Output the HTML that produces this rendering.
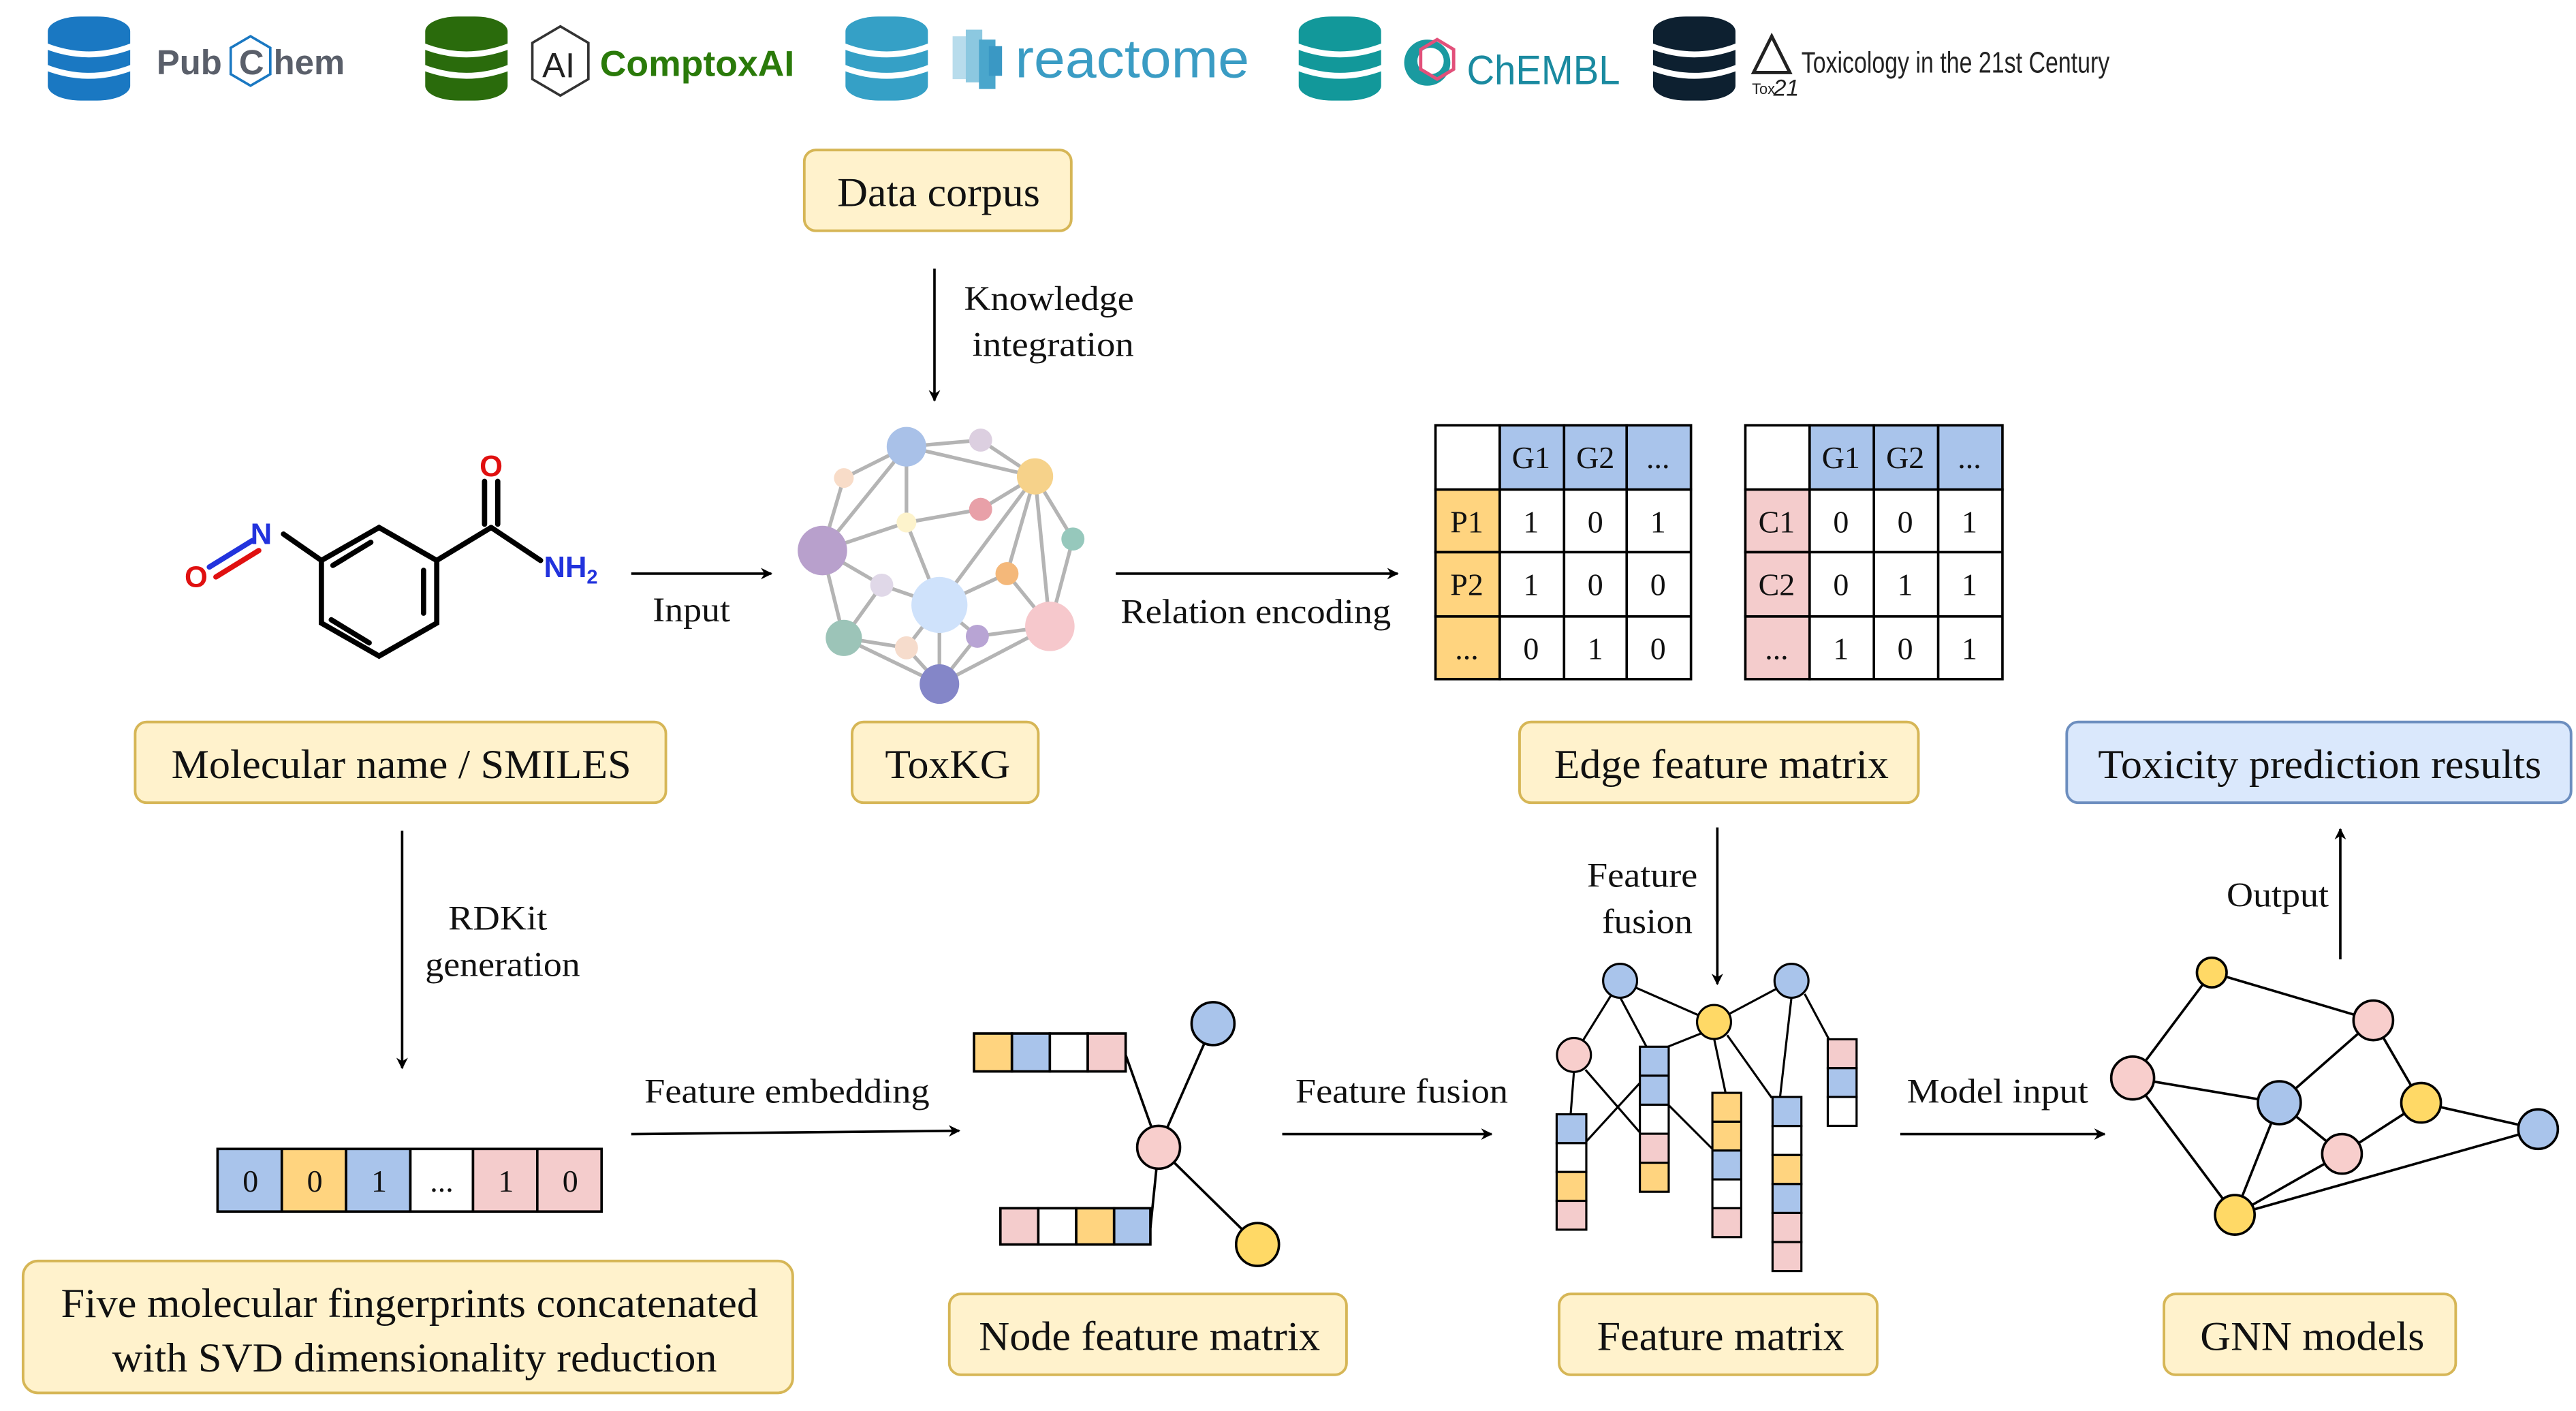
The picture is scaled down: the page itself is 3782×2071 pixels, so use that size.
<!DOCTYPE html>
<html><head><meta charset="utf-8"><style>
html,body{margin:0;padding:0;background:#fff;}
svg{display:block;}
text{font-family:"Liberation Serif",serif;fill:#111;}
.s{font-family:"Liberation Sans",sans-serif;}
</style></head><body>
<svg width="3782" height="2071" viewBox="0 0 1563 856" preserveAspectRatio="none" xmlns="http://www.w3.org/2000/svg">
<defs>
<marker id="ah" viewBox="0 0 10 10" refX="9" refY="5" markerWidth="7" markerHeight="7" orient="auto" markerUnits="userSpaceOnUse"><path d="M0,0 L10,5 L0,10 L3,5 z" fill="#000"/></marker>
<g id="db"><rect x="0" y="0" width="50" height="51" rx="20" ry="9"/><path d="M-1,18 Q25,28 51,18" stroke="#fff" stroke-width="3.6" fill="none"/><path d="M-1,31 Q25,41 51,31" stroke="#fff" stroke-width="3.6" fill="none"/></g>
</defs>

<!-- logos -->
<use href="#db" x="29" y="10" fill="#1a78c2"/>
<text class="s" x="95" y="45" font-size="21" font-weight="bold" style="fill:#5a5f6a">Pub</text>
<polygon points="152,22 164,29 164,45 152,52 140,45 140,29" fill="none" stroke="#1a78c2" stroke-width="1.5"/>
<text class="s" x="145" y="45" font-size="21" font-weight="bold" style="fill:#5a5f6a">C</text>
<text class="s" x="166" y="45" font-size="21" font-weight="bold" style="fill:#5a5f6a">hem</text>

<use href="#db" x="258" y="10" fill="#2a6b0c"/>
<polygon points="340,16 357,26 357,48 340,58 323,48 323,26" fill="none" stroke="#333" stroke-width="1.5"/>
<text class="s" x="329" y="47" font-size="21" style="fill:#222">AI</text>
<text class="s" x="364" y="46" font-size="22" font-weight="bold" textLength="118" lengthAdjust="spacingAndGlyphs" style="fill:#2a7a0a">ComptoxAI</text>

<use href="#db" x="513" y="10" fill="#35a0c6"/>
<rect x="578" y="22" width="10" height="26" fill="#b8dcec"/><rect x="586" y="18" width="10" height="32" fill="#8cc8e0"/><rect x="594" y="24" width="10" height="30" fill="#4aa6cc"/><rect x="600" y="28" width="8" height="18" fill="#3a98c4"/>
<text class="s" x="616" y="47" font-size="33" textLength="142" lengthAdjust="spacingAndGlyphs" style="fill:#3a9cc4">reactome</text>

<use href="#db" x="788" y="10" fill="#12989a"/>
<circle cx="866" cy="38" r="14" fill="#1a9aa0"/><circle cx="868" cy="37" r="8" fill="#fff"/><polygon points="872,24 882,30 882,42 872,48 862,42 862,30" fill="none" stroke="#e2507a" stroke-width="2"/>
<text class="s" x="890" y="51" font-size="25" textLength="93" lengthAdjust="spacingAndGlyphs" style="fill:#1a8aa0">ChEMBL</text>

<use href="#db" x="1003" y="10" fill="#0d2030"/>
<polygon points="1075,22 1086,44 1064,44" fill="none" stroke="#222" stroke-width="2"/>
<text class="s" x="1063" y="57" font-size="9" style="fill:#222">Tox</text><text class="s" x="1076" y="58" font-size="14" font-style="italic" style="fill:#222">21</text>
<text class="s" x="1093" y="44" font-size="18" textLength="187" lengthAdjust="spacingAndGlyphs" style="fill:#222">Toxicology in the 21st Century</text>

<!-- yellow boxes -->
<g fill="#fff2cc" stroke="#d6b656" stroke-width="1.6">
<rect x="488" y="91" width="162" height="49" rx="7"/>
<rect x="82" y="438" width="322" height="49" rx="7"/>
<rect x="517" y="438" width="113" height="49" rx="7"/>
<rect x="922" y="438" width="242" height="49" rx="7"/>
<rect x="14" y="765" width="467" height="80" rx="9"/>
<rect x="576" y="785" width="241" height="49" rx="7"/>
<rect x="946" y="785" width="193" height="49" rx="7"/>
<rect x="1313" y="785" width="177" height="49" rx="7"/>
</g>
<rect x="1254" y="438" width="306" height="49" rx="7" fill="#dae8fc" stroke="#6c8ebf" stroke-width="1.6"/>
<g font-size="25">
<text x="508" y="125" textLength="123" lengthAdjust="spacingAndGlyphs">Data corpus</text>
<text x="104" y="472" textLength="279" lengthAdjust="spacingAndGlyphs">Molecular name / SMILES</text>
<text x="537" y="472" textLength="76" lengthAdjust="spacingAndGlyphs">ToxKG</text>
<text x="943" y="472" textLength="203" lengthAdjust="spacingAndGlyphs">Edge feature matrix</text>
<text x="1273" y="472" textLength="269" lengthAdjust="spacingAndGlyphs">Toxicity prediction results</text>
<text x="37" y="799" textLength="423" lengthAdjust="spacingAndGlyphs">Five molecular fingerprints concatenated</text>
<text x="68" y="832" textLength="367" lengthAdjust="spacingAndGlyphs">with SVD dimensionality reduction</text>
<text x="594" y="819" textLength="207" lengthAdjust="spacingAndGlyphs">Node feature matrix</text>
<text x="969" y="819" textLength="150" lengthAdjust="spacingAndGlyphs">Feature matrix</text>
<text x="1335" y="819" textLength="136" lengthAdjust="spacingAndGlyphs">GNN models</text>
</g>

<!-- arrows -->
<g stroke="#000" stroke-width="1.5" fill="none" marker-end="url(#ah)">
<line x1="567" y1="163" x2="567" y2="243"/>
<line x1="383" y1="348" x2="468" y2="348"/>
<line x1="677" y1="348" x2="848" y2="348"/>
<line x1="244" y1="504" x2="244" y2="648"/>
<line x1="383" y1="688" x2="582" y2="686"/>
<line x1="778" y1="688" x2="905" y2="688"/>
<line x1="1042" y1="502" x2="1042" y2="597"/>
<line x1="1153" y1="688" x2="1277" y2="688"/>
<line x1="1420" y1="582" x2="1420" y2="503"/>
</g>
<g font-size="21">
<text x="585" y="188" textLength="103" lengthAdjust="spacingAndGlyphs">Knowledge</text><text x="590" y="216" textLength="98" lengthAdjust="spacingAndGlyphs">integration</text>
<text x="396" y="377" textLength="47" lengthAdjust="spacingAndGlyphs">Input</text>
<text x="680" y="378" textLength="164" lengthAdjust="spacingAndGlyphs">Relation encoding</text>
<text x="272" y="564" textLength="60" lengthAdjust="spacingAndGlyphs">RDKit</text><text x="258" y="592" textLength="94" lengthAdjust="spacingAndGlyphs">generation</text>
<text x="391" y="669" textLength="173" lengthAdjust="spacingAndGlyphs">Feature embedding</text>
<text x="786" y="669" textLength="129" lengthAdjust="spacingAndGlyphs">Feature fusion</text>
<text x="963" y="538" textLength="67" lengthAdjust="spacingAndGlyphs">Feature</text><text x="972" y="566" textLength="55" lengthAdjust="spacingAndGlyphs">fusion</text>
<text x="1157" y="669" textLength="110" lengthAdjust="spacingAndGlyphs">Model input</text>
<text x="1351" y="550" textLength="62" lengthAdjust="spacingAndGlyphs">Output</text>
</g>

<!-- molecule -->
<g stroke="#000" stroke-width="3.2" fill="none" stroke-linecap="round">
<polygon points="230,320 265,340 265,378 230,398 195,378 195,340"/>
<line x1="257" y1="346" x2="257" y2="372"/><line x1="224" y1="390" x2="201" y2="376"/><line x1="202" y1="343" x2="225" y2="329"/>
<line x1="195" y1="340" x2="172" y2="324"/>
<line x1="265" y1="340" x2="298" y2="320"/>
<line x1="298" y1="320" x2="328" y2="340"/>
<line x1="294" y1="318" x2="294" y2="292"/><line x1="302" y1="318" x2="302" y2="292"/>
</g>
<g stroke-width="3.2" stroke-linecap="round">
<line x1="153" y1="328" x2="127" y2="344" stroke="#2233dd"/>
<line x1="157" y1="334" x2="131" y2="350" stroke="#e01010"/>
</g>
<text class="s" x="152" y="330" font-size="18" font-weight="bold" style="fill:#2233dd">N</text>
<text class="s" x="112" y="356" font-size="18" font-weight="bold" style="fill:#e01010">O</text>
<text class="s" x="291" y="289" font-size="18" font-weight="bold" style="fill:#e01010">O</text>
<text class="s" x="330" y="350" font-size="18" font-weight="bold" style="fill:#2233dd">NH<tspan font-size="12" dy="4">2</tspan></text>

<!-- ToxKG graph -->
<g stroke="#b4b4b4" stroke-width="2.2">
<line x1="550" y1="271" x2="595" y2="267"/><line x1="595" y1="267" x2="628" y2="289"/><line x1="550" y1="271" x2="628" y2="289"/>
<line x1="550" y1="271" x2="512" y2="290"/><line x1="550" y1="271" x2="499" y2="334"/><line x1="550" y1="271" x2="550" y2="317"/>
<line x1="512" y1="290" x2="499" y2="334"/><line x1="628" y1="289" x2="595" y2="309"/><line x1="595" y1="309" x2="550" y2="317"/>
<line x1="550" y1="317" x2="499" y2="334"/><line x1="550" y1="317" x2="570" y2="367"/>
<line x1="628" y1="289" x2="570" y2="367"/><line x1="628" y1="289" x2="611" y2="348"/><line x1="628" y1="289" x2="637" y2="380"/><line x1="628" y1="289" x2="651" y2="327"/>
<line x1="651" y1="327" x2="637" y2="380"/><line x1="611" y1="348" x2="570" y2="367"/><line x1="611" y1="348" x2="637" y2="380"/>
<line x1="499" y1="334" x2="535" y2="355"/><line x1="535" y1="355" x2="570" y2="367"/><line x1="499" y1="334" x2="512" y2="387"/>
<line x1="535" y1="355" x2="512" y2="387"/><line x1="512" y1="387" x2="550" y2="393"/><line x1="512" y1="387" x2="570" y2="415"/>
<line x1="570" y1="367" x2="550" y2="393"/><line x1="570" y1="367" x2="570" y2="415"/><line x1="570" y1="367" x2="593" y2="386"/>
<line x1="593" y1="386" x2="637" y2="380"/><line x1="593" y1="386" x2="570" y2="415"/><line x1="550" y1="393" x2="570" y2="415"/><line x1="637" y1="380" x2="570" y2="415"/>
</g>
<g>
<circle cx="550" cy="271" r="12" fill="#a9c1e8"/><circle cx="595" cy="267" r="7" fill="#dccfe0"/><circle cx="512" cy="290" r="6" fill="#f8dcc8"/>
<circle cx="628" cy="289" r="11" fill="#f6d28a"/><circle cx="595" cy="309" r="7" fill="#e8a0a8"/><circle cx="550" cy="317" r="6" fill="#fdf3cc"/>
<circle cx="499" cy="334" r="15" fill="#b8a0cc"/><circle cx="651" cy="327" r="7" fill="#96c8bc"/><circle cx="611" cy="348" r="7" fill="#f4b87a"/>
<circle cx="535" cy="355" r="7" fill="#e0d8e8"/><circle cx="570" cy="367" r="17" fill="#cfe2fb"/><circle cx="637" cy="380" r="15" fill="#f6c8cc"/>
<circle cx="512" cy="387" r="11" fill="#9cc4b8"/><circle cx="550" cy="393" r="7" fill="#f6dccc"/><circle cx="593" cy="386" r="7" fill="#b8a4d4"/>
<circle cx="570" cy="415" r="12" fill="#8486c8"/>
</g>

<!-- edge feature matrices -->
<g stroke="#000" stroke-width="1.5">
<rect x="871" y="258" width="39" height="39" fill="#fff"/>
<rect x="910" y="258" width="39" height="39" fill="#a9c4eb"/><rect x="949" y="258" width="38" height="39" fill="#a9c4eb"/><rect x="987" y="258" width="39" height="39" fill="#a9c4eb"/>
<rect x="871" y="297" width="39" height="38" fill="#ffd47f"/><rect x="871" y="335" width="39" height="39" fill="#ffd47f"/><rect x="871" y="374" width="39" height="38" fill="#ffd47f"/>
<rect x="910" y="297" width="116" height="115" fill="#fff"/>
<line x1="949" y1="297" x2="949" y2="412"/><line x1="987" y1="297" x2="987" y2="412"/><line x1="910" y1="335" x2="1026" y2="335"/><line x1="910" y1="374" x2="1026" y2="374"/>

<rect x="1059" y="258" width="39" height="39" fill="#fff"/>
<rect x="1098" y="258" width="39" height="39" fill="#a9c4eb"/><rect x="1137" y="258" width="39" height="39" fill="#a9c4eb"/><rect x="1176" y="258" width="39" height="39" fill="#a9c4eb"/>
<rect x="1059" y="297" width="39" height="38" fill="#f4cccc"/><rect x="1059" y="335" width="39" height="39" fill="#f4cccc"/><rect x="1059" y="374" width="39" height="38" fill="#f4cccc"/>
<rect x="1098" y="297" width="117" height="115" fill="#fff"/>
<line x1="1137" y1="297" x2="1137" y2="412"/><line x1="1176" y1="297" x2="1176" y2="412"/><line x1="1098" y1="335" x2="1215" y2="335"/><line x1="1098" y1="374" x2="1215" y2="374"/>
</g>
<g font-size="19" text-anchor="middle">
<text x="929" y="284">G1</text><text x="968" y="284">G2</text><text x="1006" y="284">...</text>
<text x="890" y="323">P1</text><text x="929" y="323">1</text><text x="968" y="323">0</text><text x="1006" y="323">1</text>
<text x="890" y="361">P2</text><text x="929" y="361">1</text><text x="968" y="361">0</text><text x="1006" y="361">0</text>
<text x="890" y="400">...</text><text x="929" y="400">0</text><text x="968" y="400">1</text><text x="1006" y="400">0</text>
<text x="1117" y="284">G1</text><text x="1156" y="284">G2</text><text x="1195" y="284">...</text>
<text x="1078" y="323">C1</text><text x="1117" y="323">0</text><text x="1156" y="323">0</text><text x="1195" y="323">1</text>
<text x="1078" y="361">C2</text><text x="1117" y="361">0</text><text x="1156" y="361">1</text><text x="1195" y="361">1</text>
<text x="1078" y="400">...</text><text x="1117" y="400">1</text><text x="1156" y="400">0</text><text x="1195" y="400">1</text>
</g>

<!-- fingerprint strip -->
<g stroke="#000" stroke-width="1.5">
<rect x="132" y="697" width="39" height="38" fill="#a9c4eb"/><rect x="171" y="697" width="39" height="38" fill="#ffd47f"/><rect x="210" y="697" width="39" height="38" fill="#a9c4eb"/>
<rect x="249" y="697" width="38" height="38" fill="#fff"/><rect x="287" y="697" width="39" height="38" fill="#f4cccc"/><rect x="326" y="697" width="39" height="38" fill="#f4cccc"/>
</g>
<g font-size="19" text-anchor="middle">
<text x="152" y="723">0</text><text x="191" y="723">0</text><text x="230" y="723">1</text><text x="268" y="723">...</text><text x="307" y="723">1</text><text x="346" y="723">0</text>
</g>

<!-- node feature graph -->
<g stroke="#000" stroke-width="1.5">
<line x1="736" y1="621" x2="703" y2="696"/><line x1="703" y1="696" x2="763" y2="755"/>
<line x1="683" y1="640" x2="703" y2="696"/><line x1="698" y1="745" x2="703" y2="696"/>
<rect x="591" y="627" width="23" height="23" fill="#ffd47f"/><rect x="614" y="627" width="23" height="23" fill="#a9c4eb"/><rect x="637" y="627" width="23" height="23" fill="#fff"/><rect x="660" y="627" width="23" height="23" fill="#f4cccc"/>
<rect x="607" y="733" width="23" height="22" fill="#f4cccc"/><rect x="630" y="733" width="23" height="22" fill="#fff"/><rect x="653" y="733" width="23" height="22" fill="#ffd47f"/><rect x="676" y="733" width="22" height="22" fill="#a9c4eb"/>
<circle cx="736" cy="621" r="13" fill="#a9c4eb"/><circle cx="703" cy="696" r="13" fill="#f8cecc"/><circle cx="763" cy="755" r="13" fill="#ffd966"/>
</g>

<!-- feature matrix graph -->
<g stroke="#000" stroke-width="1.3">
<line x1="983" y1="595" x2="955" y2="640"/><line x1="983" y1="605" x2="999" y2="635"/><line x1="983" y1="595" x2="1040" y2="620"/>
<line x1="1040" y1="620" x2="1087" y2="595"/><line x1="1032" y1="627" x2="1012" y2="635"/><line x1="1040" y1="630" x2="1047" y2="663"/>
<line x1="1048" y1="628" x2="1075" y2="666"/><line x1="1087" y1="605" x2="1080" y2="666"/><line x1="1095" y1="603" x2="1110" y2="631"/>
<line x1="955" y1="650" x2="953" y2="676"/><line x1="962" y1="649" x2="995" y2="687"/><line x1="962" y1="693" x2="995" y2="657"/><line x1="1012" y1="670" x2="1039" y2="697"/>
</g>
<g stroke="#000" stroke-width="1.3">
<rect x="944.5" y="676" width="18" height="17.5" fill="#a9c4eb"/><rect x="944.5" y="693.5" width="18" height="17.5" fill="#fff"/><rect x="944.5" y="711" width="18" height="17.5" fill="#ffd47f"/><rect x="944.5" y="728.5" width="18" height="17.5" fill="#f4cccc"/>
<rect x="995" y="635" width="17.5" height="17.6" fill="#a9c4eb"/><rect x="995" y="652.6" width="17.5" height="17.6" fill="#a9c4eb"/><rect x="995" y="670.2" width="17.5" height="17.6" fill="#fff"/><rect x="995" y="687.8" width="17.5" height="17.6" fill="#f4cccc"/><rect x="995" y="705.4" width="17.5" height="17.6" fill="#ffd47f"/>
<rect x="1039" y="663" width="17.5" height="17.5" fill="#ffd47f"/><rect x="1039" y="680.5" width="17.5" height="17.5" fill="#ffd47f"/><rect x="1039" y="698" width="17.5" height="17.5" fill="#a9c4eb"/><rect x="1039" y="715.5" width="17.5" height="17.5" fill="#fff"/><rect x="1039" y="733" width="17.5" height="17.5" fill="#f4cccc"/>
<rect x="1075.5" y="665.5" width="17.5" height="17.6" fill="#a9c4eb"/><rect x="1075.5" y="683.1" width="17.5" height="17.6" fill="#fff"/><rect x="1075.5" y="700.7" width="17.5" height="17.6" fill="#ffd47f"/><rect x="1075.5" y="718.3" width="17.5" height="17.6" fill="#a9c4eb"/><rect x="1075.5" y="735.9" width="17.5" height="17.6" fill="#f4cccc"/><rect x="1075.5" y="753.5" width="17.5" height="17.6" fill="#f4cccc"/>
<rect x="1109" y="630.5" width="17.5" height="17.5" fill="#f4cccc"/><rect x="1109" y="648" width="17.5" height="17.5" fill="#a9c4eb"/><rect x="1109" y="665.5" width="17.5" height="17.5" fill="#fff"/>
<circle cx="983" cy="595" r="10.3" fill="#a9c4eb"/><circle cx="1087" cy="595" r="10.3" fill="#a9c4eb"/><circle cx="1040" cy="620" r="10.3" fill="#ffd966"/><circle cx="955" cy="640" r="10.3" fill="#f8cecc"/>
</g>

<!-- GNN graph -->
<g stroke="#000" stroke-width="1.5">
<line x1="1342" y1="590" x2="1440" y2="619"/><line x1="1342" y1="590" x2="1294" y2="654"/><line x1="1294" y1="654" x2="1383" y2="669"/>
<line x1="1294" y1="654" x2="1356" y2="737"/><line x1="1440" y1="619" x2="1383" y2="669"/><line x1="1440" y1="619" x2="1469" y2="669"/>
<line x1="1383" y1="669" x2="1421" y2="700"/><line x1="1421" y1="700" x2="1469" y2="669"/><line x1="1469" y1="669" x2="1540" y2="685"/>
<line x1="1383" y1="669" x2="1356" y2="737"/><line x1="1356" y1="737" x2="1540" y2="685"/><line x1="1356" y1="737" x2="1421" y2="700"/>
<circle cx="1342" cy="590" r="9" fill="#ffd966"/><circle cx="1440" cy="619" r="12" fill="#f8cecc"/><circle cx="1294" cy="654" r="13" fill="#f8cecc"/>
<circle cx="1383" cy="669" r="13" fill="#a9c4eb"/><circle cx="1469" cy="669" r="12" fill="#ffd966"/><circle cx="1421" cy="700" r="12" fill="#f8cecc"/>
<circle cx="1540" cy="685" r="12" fill="#a9c4eb"/><circle cx="1356" cy="737" r="12" fill="#ffd966"/>
</g>
</svg>
</body></html>
